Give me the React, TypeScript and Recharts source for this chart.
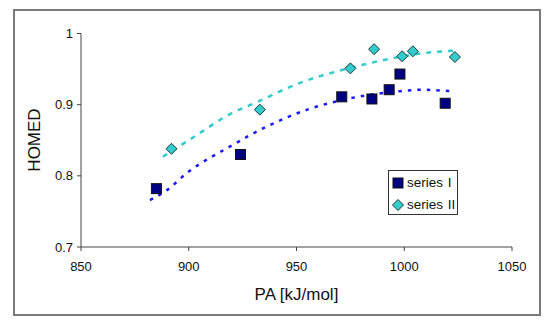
import {
  ComposedChart,
  Scatter,
  Line,
  XAxis,
  YAxis,
  Label,
} from "recharts";

// scatter points
const paI = [885, 924, 971, 985, 993, 998, 1019];
const homedI = [0.782, 0.830, 0.911, 0.908, 0.921, 0.943, 0.902];
const paII = [892, 933, 975, 986, 999, 1004, 1023.5];
const homedII = [0.838, 0.893, 0.951, 0.978, 0.968, 0.975, 0.967];

// polynomial trend lines
const trendIX = [882, 889, 900, 919, 936, 955, 973.5, 998, 1008, 1021.5];
const trendIY = [0.766, 0.778, 0.806, 0.841, 0.869, 0.893, 0.908, 0.919, 0.921, 0.919];
const trendIIX = [888, 900, 920, 932, 951, 969, 988, 1008, 1024];
const trendIIY = [0.827, 0.85, 0.888, 0.904, 0.93, 0.947, 0.961, 0.972, 0.976];

const xTicks = [850, 900, 950, 1000, 1050];
const yTicks = [0.7, 0.8, 0.9, 1];

const seriesNames = ["series I", "series II"];

const NAVY = "#000080";
const CYAN = "#33CCCC";
const BLUE = "#1a1aff";
const FONT = "Arial, 'Liberation Sans', sans-serif";

const zip = (xs: number[], ys: number[]) => xs.map((x, i) => ({ x, y: ys[i] }));

const Square = (props: any) => {
  const { cx, cy } = props;
  if (cx == null || cy == null) return null;
  return (
    <rect x={cx - 5} y={cy - 5} width={10} height={10} fill={NAVY} stroke="#111" strokeWidth={1} />
  );
};

const Diamond = (props: any) => {
  const { cx, cy } = props;
  if (cx == null || cy == null) return null;
  const r = 5.5;
  return (
    <path
      d={`M${cx},${cy - r}L${cx + r},${cy}L${cx},${cy + r}L${cx - r},${cy}Z`}
      fill={CYAN}
      stroke="#1a3a3a"
      strokeWidth={1}
    />
  );
};

const LegendBox = () => (
  <div
    style={{
      position: "absolute",
      left: 388,
      top: 170,
      width: 70,
      height: 45,
      boxSizing: "border-box",
      border: "1px solid #333",
      background: "#fff",
      fontFamily: FONT,
      fontSize: 13.5,
      color: "#111",
    }}
  >
    {seriesNames.map((name, i) => (
      <div
        key={name}
        style={{
          position: "absolute",
          left: 3,
          top: 4 + i * 22,
          display: "flex",
          alignItems: "center",
          whiteSpace: "nowrap",
        }}
      >
        <svg width={12} height={12} style={{ marginRight: 3 }}>
          {i === 0 ? <Square cx={6} cy={6} /> : <Diamond cx={6} cy={6} />}
        </svg>
        <span style={{ wordSpacing: 1 }}>{name}</span>
      </div>
    ))}
  </div>
);

export default function App() {
  return (
    <div style={{ position: "absolute", left: 0, top: 0, width: 550, height: 322, background: "#fff" }}>
      <div
        style={{
          position: "absolute",
          left: 13,
          top: 9,
          width: 528,
          height: 307,
          border: "2px solid #7a7a7a",
          boxSizing: "border-box",
        }}
      />
      <ComposedChart
        width={550}
        height={322}
        margin={{ top: 33.5, right: 38, bottom: 15, left: 21 }}
        style={{ position: "absolute", left: 0, top: 0 }}
      >
        <XAxis
          type="number"
          dataKey="x"
          domain={[850, 1050]}
          ticks={xTicks}
          allowDataOverflow
          height={60}
          stroke="#444"
          tickSize={4}
          tickMargin={11}
          tick={{ fontSize: 13, fill: "#111", fontFamily: FONT }}
        >
          <Label
            value="PA [kJ/mol]"
            position="insideBottom"
            offset={7}
            style={{ fontSize: 17, fill: "#111", fontFamily: FONT }}
          />
        </XAxis>
        <YAxis
          type="number"
          dataKey="y"
          domain={[0.7, 1]}
          ticks={yTicks}
          allowDataOverflow
          width={60}
          stroke="#444"
          tickSize={4}
          tickMargin={4}
          tickFormatter={(v: number) => (v === 1 ? "1" : v.toFixed(1))}
          tick={{ fontSize: 13, fill: "#111", fontFamily: FONT }}
        >
          <Label
            value="HOMED"
            content={() => (
              <text
                x={40}
                y={140}
                transform="rotate(-90 40 140)"
                textAnchor="middle"
                style={{ fontSize: 17, fill: "#111", fontFamily: FONT }}
              >
                HOMED
              </text>
            )}
          />
        </YAxis>
        <Line
          data={zip(trendIX, trendIY)}
          dataKey="y"
          type="monotone"
          stroke={BLUE}
          strokeWidth={2.5}
          strokeDasharray="3.5 6"
          dot={false}
          activeDot={false}
          legendType="none"
          isAnimationActive={false}
        />
        <Line
          data={zip(trendIIX, trendIIY)}
          dataKey="y"
          type="monotone"
          stroke={CYAN}
          strokeWidth={2.5}
          strokeDasharray="5 6"
          dot={false}
          activeDot={false}
          legendType="none"
          isAnimationActive={false}
        />
        <Scatter
          name={seriesNames[0]}
          data={zip(paI, homedI)}
          dataKey="y"
          shape={<Square />}
          isAnimationActive={false}
        />
        <Scatter
          name={seriesNames[1]}
          data={zip(paII, homedII)}
          dataKey="y"
          shape={<Diamond />}
          isAnimationActive={false}
        />
      </ComposedChart>
      <LegendBox />
    </div>
  );
}
